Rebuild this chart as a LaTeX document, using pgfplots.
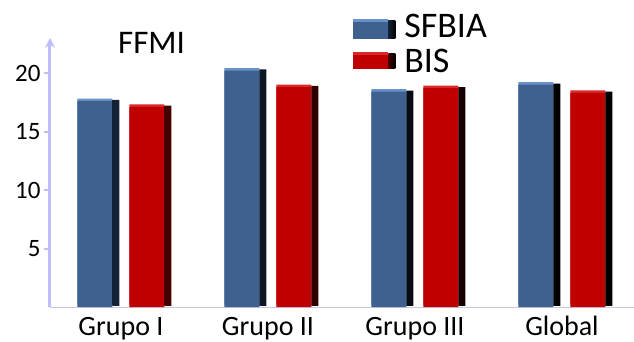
\documentclass[border=0pt]{standalone}
\usepackage{fontspec}
\setmainfont{Carlito}
\usepackage{pgfplots}
\usepackage{pgfplotstable}
\pgfplotsset{compat=1.18}
\usetikzlibrary{arrows.meta}

\definecolor{sfbia}{RGB}{62,97,144}
\definecolor{sfbiatop}{RGB}{104,145,200}
\definecolor{sfbiaside}{RGB}{20,34,56}
\definecolor{bis}{RGB}{192,0,0}
\definecolor{bistop}{RGB}{218,40,40}
\definecolor{bisside}{RGB}{70,0,0}
\definecolor{axislav}{RGB}{190,190,255}
\definecolor{baseline}{RGB}{200,200,228}

% FFMI by group: SFBIA vs BIS
\pgfplotstableread{
x sfbia bis
0 17.6 17.1
1 20.2 18.8
2 18.4 18.7
3 19.0 18.3
}\ffmidata

\begin{document}
\begin{tikzpicture}[x=1pt,y=1pt]
\useasboundingbox (0,0) rectangle (634,341);
\begin{axis}[
  at={(50pt,34pt)}, anchor=south west,
  scale only axis, width=584pt, height=269.1pt,
  xmin=-0.483, xmax=3.49, ymin=0, ymax=23,
  axis y line*=left, axis x line*=bottom,
  y axis line style={-{Stealth[length=10pt,width=10pt]}, draw=axislav, line width=3pt},
  x axis line style={-, draw=baseline, line width=1pt},
  ytick={5,10,15,20},
  xtick=data,
  xticklabels={Grupo I, Grupo II, Grupo III, Global},
  tick align=outside,
  major tick length=6pt,
  ytick style={draw=axislav, line width=2pt},
  xtick style={draw=none},
  yticklabel style={font=\fontsize{25}{27}\selectfont},
  xticklabel style={font=\fontsize{28}{30}\selectfont, anchor=base, inner sep=1pt, yshift=-22.5pt},
  /pgf/number format/assume math mode=true,
  clip=false,
  legend style={at={(0.519,1.0925)}, anchor=north west, draw=none, fill=none,
    font=\fontsize{36}{38}\selectfont, inner sep=0pt,
    nodes={text height=24pt, text depth=0pt, inner sep=0pt},
    row sep=9.4pt, column sep=9pt},
  legend cell align=left,
]
% light top faces, slightly above the front faces
\addplot[ybar, bar width=35pt, bar shift=-26pt, fill=sfbiatop, draw=none, forget plot, yshift=2.5pt]
  table[x=x,y=sfbia]{\ffmidata};
\addplot[ybar, bar width=35pt, bar shift=26pt, fill=bistop, draw=none, forget plot, yshift=2.5pt]
  table[x=x,y=bis]{\ffmidata};
% front faces
\addplot[ybar, bar width=35pt, bar shift=-26pt, fill=sfbia, draw=none,
  legend image code/.code={
    \fill[sfbiatop] (0pt,-13.6pt) rectangle (35pt,6.4pt);
    \fill[sfbia] (0pt,-13.6pt) rectangle (35pt,3.4pt);
    \shade[left color=sfbiaside, right color=black] (35pt,-13.6pt) rectangle (42pt,5pt);}]
  table[x=x,y=sfbia]{\ffmidata};
\addlegendentry{SFBIA}
\addplot[ybar, bar width=35pt, bar shift=26pt, fill=bis, draw=none,
  legend image code/.code={
    \fill[bistop] (0pt,-8.6pt) rectangle (35pt,8pt);
    \fill[bis] (0pt,-8.6pt) rectangle (35pt,5pt);
    \shade[left color=bisside, right color=black] (35pt,-8.6pt) rectangle (42pt,6.5pt);}]
  table[x=x,y=bis]{\ffmidata};
\addlegendentry{BIS}
% dark side faces
\addplot[ybar, bar width=7pt, bar shift=-5pt, left color=sfbiaside, right color=black, draw=none, forget plot, yshift=1.2pt]
  table[x=x,y=sfbia]{\ffmidata};
\addplot[ybar, bar width=7pt, bar shift=47pt, left color=bisside, right color=black, draw=none, forget plot, yshift=1.2pt]
  table[x=x,y=bis]{\ffmidata};
\end{axis}
\node[font=\fontsize{33}{35}\selectfont, anchor=base west, inner sep=0pt] at (118,288) {FFMI};
\end{tikzpicture}
\end{document}
